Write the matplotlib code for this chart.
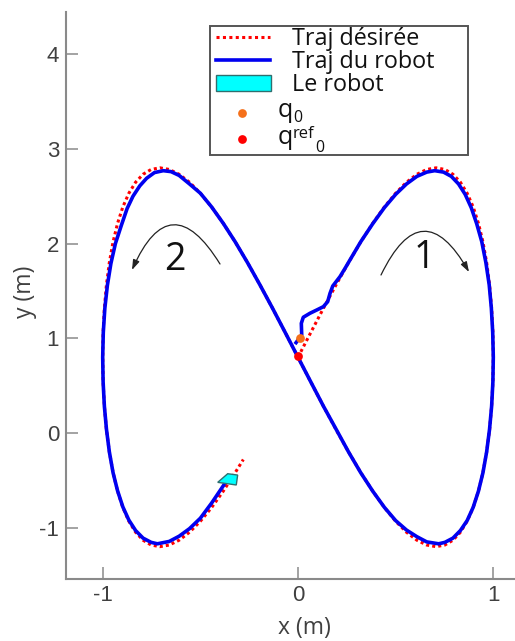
import matplotlib
matplotlib.use("Agg")
import matplotlib.pyplot as plt
from matplotlib.patches import Polygon, Rectangle, FancyArrowPatch
from matplotlib.lines import Line2D

W, H = 515, 641
plt.rcParams['font.family'] = ['Open Sans', 'DejaVu Sans']

ref_x = [0, .0654, .1305, .1951, .2588, .3214, .3827, .4423, .5, .5556, .6088, .6593, .7071, .7518, .7934, .8315, .866, .8969, .9239, .9469, .9659, .9808, .9914, .9979, 1,
         .9979, .9914, .9808, .9659, .9469, .9239, .8969, .866, .8315, .7934, .7518, .7071, .6593, .6088, .5556, .5, .4423, .3827, .3214, .2588, .1951, .1305, .0654, 0,
         -.0654, -.1305, -.1951, -.2588, -.3214, -.3827, -.4423, -.5, -.5556, -.6088, -.6593, -.7071, -.7518, -.7934, -.8315, -.866, -.8969, -.9239, -.9469, -.9659, -.9808, -.9914, -.9979, -1,
         -.9979, -.9914, -.9808, -.9659, -.9469, -.9239, -.8969, -.866, -.8315, -.7934, -.7518, -.7071, -.6593, -.6088, -.5556, -.5, -.4423, -.3827, -.3214, -.28]
ref_y = [.8, 1.061, 1.318, 1.565, 1.8, 2.018, 2.214, 2.387, 2.532, 2.648, 2.732, 2.783, 2.8, 2.783, 2.732, 2.648, 2.532, 2.387, 2.214, 2.018, 1.8, 1.565, 1.318, 1.061, .8,
         .539, .282, .035, -.2, -.418, -.614, -.787, -.932, -1.048, -1.132, -1.183, -1.2, -1.183, -1.132, -1.048, -.932, -.787, -.614, -.418, -.2, .035, .282, .539, .8,
         1.061, 1.318, 1.565, 1.8, 2.018, 2.214, 2.387, 2.532, 2.648, 2.732, 2.783, 2.8, 2.783, 2.732, 2.648, 2.532, 2.387, 2.214, 2.018, 1.8, 1.565, 1.318, 1.061, .8,
         .539, .282, .035, -.2, -.418, -.614, -.787, -.932, -1.048, -1.132, -1.183, -1.2, -1.183, -1.132, -1.048, -.932, -.787, -.614, -.418, -.28]

robot_x = [-.010, .019, .017, .027, .061, .096, .130, .152, .164, .178, .215, .241, .266, .3214, .3827, .4423, .5, .5556, .6088, .6593, .70, .745, .785, .822, .856, .887, .915, .941, .962, .979, .990, .997, 1,
           .9979, .9914, .9808, .9659, .9469, .9239, .8969, .866, .8315, .7934, .7518, .72, .6593, .6088, .5556, .5, .4423, .3827, .3214, .2588, .1951, .1305, .0654, 0,
           -.0654, -.1305, -.1951, -.2588, -.3214, -.3827, -.4423, -.5, -.5556, -.6088, -.65, -.69, -.735, -.775, -.81, -.845, -.875, -.905, -.935, -.958, -.976, -.989, -.997, -1,
           -.9979, -.9914, -.9808, -.9659, -.9469, -.9239, -.8969, -.866, -.8315, -.7934, -.7518, -.72, -.6593, -.6088, -.5556, -.5, -.4423, -.38]
robot_y = [.954, 1.035, 1.158, 1.222, 1.264, 1.299, 1.334, 1.387, 1.475, 1.552, 1.651, 1.739, 1.827, 2.02, 2.21, 2.38, 2.52, 2.63, 2.71, 2.755, 2.77, 2.755, 2.71, 2.63, 2.52, 2.38, 2.21, 2.02, 1.8, 1.565, 1.318, 1.061, .8,
           .54, .282, .04, -.2, -.42, -.614, -.785, -.925, -1.03, -1.11, -1.155, -1.17, -1.15, -1.095, -1.025, -.925, -.785, -.614, -.42, -.2, .04, .282, .54, .8,
           1.061, 1.318, 1.565, 1.8, 2.018, 2.214, 2.387, 2.532, 2.63, 2.72, 2.76, 2.77, 2.75, 2.69, 2.61, 2.5, 2.37, 2.19, 2.0, 1.79, 1.56, 1.318, 1.061, .8,
           .54, .282, .04, -.2, -.42, -.61, -.78, -.92, -1.03, -1.11, -1.155, -1.17, -1.145, -1.09, -1.01, -.9, -.74, -.55]

robot_shape_x = [-.411, -.360, -.309, -.316]
robot_shape_y = [-.521, -.430, -.444, -.549]
q0 = (.01, 1.0)
qref0 = (0, .81)
xticks = [-1, 0, 1]
yticks = [-1, 0, 1, 2, 3, 4]

fig = plt.figure(figsize=(W / 100, H / 100), dpi=100)
L, R, T, B = 66, 514, 12, 578.5
ax = fig.add_axes([L / W, 1 - B / H, (R - L) / W, (B - T) / H])
ax.set_xlim((L - 298) / 195.3, (R - 298) / 195.3)
ax.set_ylim((433 - B) / 94.7, (433 - T) / 94.7)
for s in ['top', 'right']:
    ax.spines[s].set_visible(False)
for s in ['left', 'bottom']:
    ax.spines[s].set_color('#8a8a8a')
    ax.spines[s].set_linewidth(1.5)
ax.set_xticks(xticks)
ax.set_yticks(yticks)
ax.tick_params(direction='in', length=8.5, width=1.1, color='#8a8a8a', labelcolor='#404040', labelsize=16, pad=5)
ax.set_xticklabels(['-1', '0', '1'], family=['Liberation Sans'])
ax.set_yticklabels(['-1', '0', '1', '2', '3', '4'], family=['Liberation Sans'])
ax.set_xlabel('x (m)', fontsize=16.5, color='#404040', va='center')
ax.set_ylabel('y (m)', fontsize=16.5, color='#404040', va='center')
ax.xaxis.set_label_coords((304 - L) / (R - L), -(628 - B) / (B - T))
ax.yaxis.set_label_coords(-(L - 25) / (R - L), (B - 292) / (B - T))

ax.plot(ref_x, ref_y, color='#ff0000', lw=2.2, linestyle=(0, (1, 1)), zorder=2)
ax.plot(robot_x, robot_y, color='#0000f0', lw=2.6, zorder=3, solid_joinstyle='round')
ax.add_patch(Polygon(list(zip(robot_shape_x, robot_shape_y)), closed=True, facecolor='#00ffff',
                     edgecolor='#2f6f6f', lw=1, zorder=4))
ax.plot(*q0, 'o', color='#f5701a', ms=6.3, mew=0, zorder=5)
ax.plot(*qref0, 'o', color='#ff0000', ms=6.3, mew=0, zorder=5)


def P(px, py):
    return px / W, 1 - py / H


def arc(a, b, rad):
    fig.add_artist(FancyArrowPatch(P(*a), P(*b), transform=fig.transFigure, connectionstyle=f'arc3,rad={rad}',
                                   arrowstyle='-|>,head_length=6,head_width=2', color='#222222', lw=0.9,
                                   shrinkA=0, shrinkB=0, zorder=6))


arc((381, 275), (469, 272), -.95)
arc((220, 264), (132, 270), .95)
fig.text(*P(424, 258), '1', fontsize=27, ha='center', va='center', color='#111111')
fig.text(*P(175, 260), '2', fontsize=27, ha='center', va='center', color='#111111')

# legend box
fig.add_artist(Rectangle(P(209.5, 155.5), 258.5 / W, 129.5 / H, transform=fig.transFigure, facecolor='white',
                         edgecolor='#555555', lw=1.4, zorder=7))
fig.add_artist(Line2D([P(216, 0)[0], P(270, 0)[0]], [P(0, 37)[1]] * 2, transform=fig.transFigure, color='#ff0000',
                      lw=2.2, linestyle=(0, (1, 1.1)), zorder=8))
fig.add_artist(Line2D([P(216, 0)[0], P(270, 0)[0]], [P(0, 60)[1]] * 2, transform=fig.transFigure, color='#0000f0',
                      lw=2.6, zorder=8))
fig.add_artist(Rectangle(P(215.5, 91), 55 / W, 16 / H, transform=fig.transFigure, facecolor='#00ffff',
                         edgecolor='#2f6f6f', lw=1, zorder=8))
fig.add_artist(Line2D([P(242, 0)[0]], [P(0, 112.5)[1]], marker='o', color='#f5701a', ms=6.3, mew=0,
                      transform=fig.transFigure, zorder=8))
fig.add_artist(Line2D([P(242, 0)[0]], [P(0, 138.5)[1]], marker='o', color='#ff0000', ms=6.3, mew=0,
                      transform=fig.transFigure, zorder=8))
for y, s in [(45, 'Traj désirée'), (68, 'Traj du robot'), (91, 'Le robot')]:
    fig.text(*P(292, y), s, fontsize=16.8, va='baseline', ha='left', color='#111111', zorder=9)
for x, y, s, fs in [(278, 117, 'q', 18), (293, 121.5, '0', 11.5), (278, 144, 'q', 18),
                    (293, 138.5, 'ref', 12), (315, 152, '0', 11.5)]:
    fig.text(*P(x, y), s, fontsize=fs, va='baseline', ha='left', color='#111111', zorder=9)

fig.savefig('out.png', dpi=100)
